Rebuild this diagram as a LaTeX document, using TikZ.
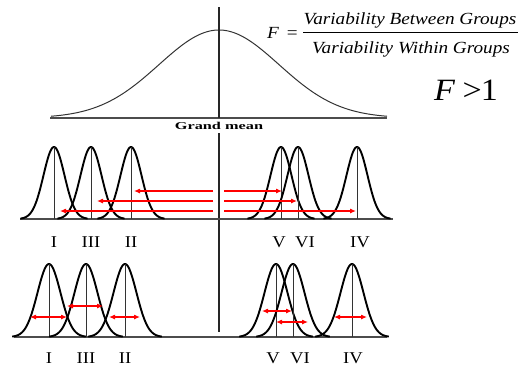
\documentclass[tikz,border=0pt]{standalone}
\usepackage{fontspec}
\usepackage{graphicx}
\setmainfont{Liberation Serif}
\usetikzlibrary{arrows.meta}
\definecolor{arrred}{RGB}{255,0,0}
\newcommand\bellcurve[4]{%
  \draw[bell] plot[domain=-3.2:3.2, samples=90, smooth] ({#1+#4*\x},{#2-#3*exp(-0.5*(\x)*(\x))});
  \draw[midline] (#1,#2) -- (#1,#2-#3);}
\tikzset{
  bell/.style={line width=1.9pt, black},
  midline/.style={line width=1pt, black!80},
  axisline/.style={line width=1.3pt, black!70},
  centerline/.style={line width=1.1pt, black!85},
  roman/.style={inner sep=0pt, anchor=base, font=\fontsize{16.5}{18}\selectfont},
  redone/.style={draw=arrred, line width=1.1pt, -{Latex[length=6pt,width=5pt]}},
  redtwo/.style={draw=arrred, line width=1.1pt, {Latex[length=6pt,width=5pt]}-{Latex[length=6pt,width=5pt]}},
  formula/.style={inner sep=0pt, anchor=base, font=\fontsize{17}{19}\selectfont\itshape},
}
\newcommand\hs[1]{\scalebox{1.13}[1]{#1}}
\begin{document}
\begin{tikzpicture}[x=1pt,y=-1pt]
\useasboundingbox (0,0) rectangle (530,367);
% top big curve
\draw[axisline, line width=1.1pt] (50,118) -- (387,118);
\draw[line width=1pt, black!80] plot[domain=-2.8:2.8, samples=120, smooth] ({219+60*\x},{118-88*exp(-0.5*(\x)*(\x))});
\draw[centerline] (219,7) -- (219,118);
\draw[centerline] (219,133) -- (219,332);
\node[inner sep=0pt, anchor=base, font=\fontsize{10.5}{12}\selectfont\bfseries] (gm) at (219,129) {\scalebox{1.55}[1]{Grand mean}};
% formula
\node[formula] (num) at (410,24) {\hs{Variability Between Groups}};
\node[formula] (den) at (411,53) {\hs{Variability Within Groups}};
\draw[line width=0.9pt] (303,32) -- (518,32);
\node[formula, anchor=base east] (feq) at (298,38) {\hs{F\, \upshape =}};
\node[inner sep=0pt, anchor=base, font=\fontsize{31}{33}\selectfont] (fg) at (466,100) {\scalebox{1.1}[1]{\textit{F} \kern-1pt>\kern-1pt1}};
% top row
\draw[axisline] (20,219) -- (393,219);
\bellcurve{54}{219}{72}{10.5}
\bellcurve{91}{219}{72}{10.5}
\bellcurve{131}{219}{72}{10.5}
\bellcurve{281}{219}{72}{10.5}
\bellcurve{298}{219}{72}{10.5}
\bellcurve{357}{219}{72}{10.5}
\node[roman] (t1) at (54,247) {\hs{I}};
\node[roman] (t3) at (91,247) {\hs{III}};
\node[roman] (t2) at (131,247) {\hs{II}};
\node[roman] (t5) at (279,247) {\hs{V}};
\node[roman] (t6) at (305,247) {\hs{VI}};
\node[roman] (t4) at (360,247) {\hs{IV}};
% top arrows
\coordinate (aL1) at (213,191); \coordinate (aII) at (134,191);
\coordinate (aR1) at (224,191); \coordinate (aV) at (282,191);
\coordinate (aL2) at (213,201); \coordinate (aIII) at (97,201);
\coordinate (aR2) at (224,201); \coordinate (aVI) at (297,201);
\coordinate (aL3) at (213,211); \coordinate (aI) at (60,211);
\coordinate (aR3) at (224,211); \coordinate (aIV) at (356,211);
\draw[redone] (aL1) -- (aII);
\draw[redone] (aR1) -- (aV);
\draw[redone] (aL2) -- (aIII);
\draw[redone] (aR2) -- (aVI);
\draw[redone] (aL3) -- (aI);
\draw[redone] (aR3) -- (aIV);
% bottom row
\draw[axisline] (14,337) -- (387,337);
\bellcurve{49}{337}{73}{11.5}
\bellcurve{86}{337}{73}{11.5}
\bellcurve{125}{337}{73}{11.5}
\bellcurve{276}{337}{73}{11.5}
\bellcurve{293}{337}{73}{11.5}
\bellcurve{352}{337}{73}{11.5}
\node[roman] (b1) at (49,363) {\hs{I}};
\node[roman] (b3) at (86,363) {\hs{III}};
\node[roman] (b2) at (125,363) {\hs{II}};
\node[roman] (b5) at (273,363) {\hs{V}};
\node[roman] (b6) at (300,363) {\hs{VI}};
\node[roman] (b4) at (353,363) {\hs{IV}};
% bottom arrows
\coordinate (w1a) at (30,317); \coordinate (w1b) at (67,317);
\coordinate (w3a) at (67,306); \coordinate (w3b) at (103,306);
\coordinate (w2a) at (109,317); \coordinate (w2b) at (140,317);
\coordinate (w5a) at (262,311); \coordinate (w5b) at (292,311);
\coordinate (w6a) at (276,322); \coordinate (w6b) at (308,322);
\coordinate (w4a) at (334,317); \coordinate (w4b) at (367,317);
\draw[redtwo] (w1a) -- (w1b);
\draw[redtwo] (w3a) -- (w3b);
\draw[redtwo] (w2a) -- (w2b);
\draw[redtwo] (w5a) -- (w5b);
\draw[redtwo] (w6a) -- (w6b);
\draw[redtwo] (w4a) -- (w4b);
\end{tikzpicture}
\end{document}
